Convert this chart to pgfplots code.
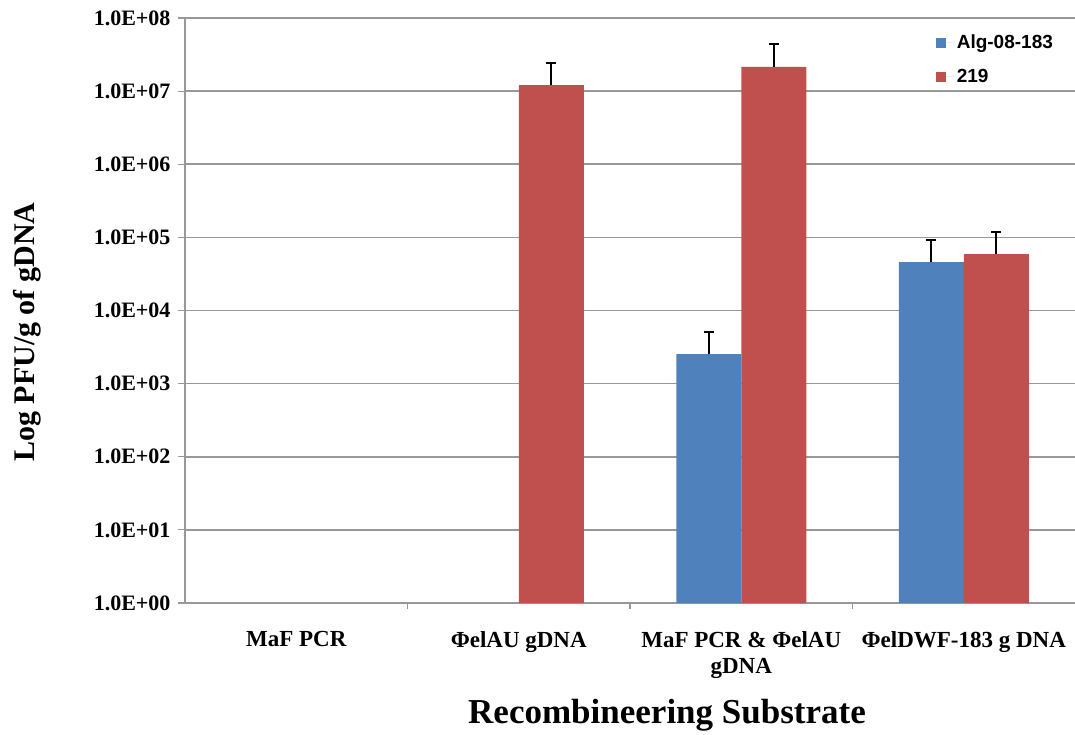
\documentclass[border=0pt]{standalone}
\usepackage{fontspec}
\setmainfont{Liberation Serif}
\newfontfamily\legfont{Liberation Sans}
\usepackage{pgfplots}
\pgfplotsset{compat=1.18}
\definecolor{cblue}{HTML}{4F81BD}
\definecolor{cred}{HTML}{C0504D}
\definecolor{gline}{HTML}{989898}
\begin{document}
\begin{tikzpicture}[x=1pt,y=1pt]
\path[use as bounding box] (0,0) rectangle (1075,734);
\begin{axis}[
  at={(185pt,131pt)}, anchor=south west,
  scale only axis, width=890pt, height=585pt,
  ymode=log, ymin=1, ymax=1e8,
  ytick={1,10,100,1000,10000,100000,1000000,10000000,100000000},
  yticklabels={1.0E+00,1.0E+01,1.0E+02,1.0E+03,1.0E+04,1.0E+05,1.0E+06,1.0E+07,1.0E+08},
  yminorticks=false,
  xmin=-0.5, xmax=3.5,
  xtick={0,1,2,3},
  xticklabels={MaF PCR, ΦelAU gDNA, {MaF PCR \& ΦelAU\\gDNA}, ΦelDWF-183 g DNA},
  extra x ticks={0.5,1.5,2.5},
  extra x tick labels={},
  extra x tick style={major tick length=6pt, xmajorgrids=false, xtick style={draw=gline, line width=1.2pt}},
  axis x line*=bottom, axis y line*=left,
  axis line style={gline, line width=1.5pt},
  ymajorgrids, grid style={gline, line width=1.5pt},
  tick style={gline, line width=1.2pt},
  tick align=outside,
  major tick length=7pt,
  xtick style={draw=none},
  yticklabel style={font=\fontsize{22}{26}\selectfont\bfseries, xshift=-4pt},
  xticklabel style={font=\fontsize{23}{26}\selectfont\bfseries, align=center, yshift=-18pt},
  ylabel={Log PFU/g of gDNA},
  ylabel style={at={(axis description cs:-0.1775,0.463)}, anchor=center, font=\fontsize{30}{34}\selectfont\bfseries},
  xlabel={Recombineering Substrate},
  xlabel style={at={(axis description cs:0.5416,-0.1915)}, anchor=center, font=\fontsize{35}{38}\selectfont\bfseries},
  ybar=0pt, bar width=65pt,
  legend style={at={(axis description cs:0.84,0.978)}, anchor=north west, draw=none, fill=none,
    font=\legfont\fontsize{19}{21}\selectfont\bfseries, row sep=15pt},
  legend cell align=left,
  legend image code/.code={\path[#1] (0pt,-5pt) rectangle (10pt,5pt); \path (10pt,0pt) -- (19pt,0pt);},
  error bars/y dir=plus, error bars/y explicit,
  error bars/error bar style={black, line width=2pt},
  error bars/error mark options={rotate=90, mark size=5pt, line width=2pt, black},
]
\addplot[fill=cblue, draw=none] coordinates {
  (2,2530) +- (0,2530)
  (3,46000) +- (0,46000)
};
\addplot[fill=cred, draw=none] coordinates {
  (1,12100000) +- (0,12100000)
  (2,21500000) +- (0,22000000)
  (3,59000) +- (0,59000)
};
\legend{Alg-08-183, 219}
\end{axis}
\end{tikzpicture}
\end{document}
